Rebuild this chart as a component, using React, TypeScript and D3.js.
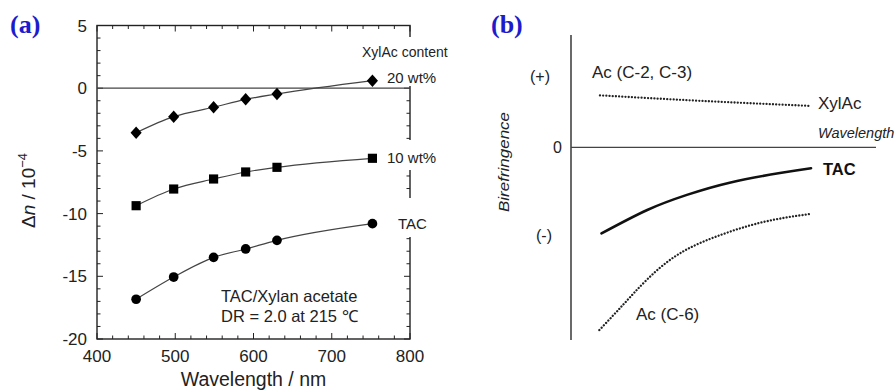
import React from "react";
import * as d3 from "d3";

// ---------- Panel (a) data ----------
const wavelengths = [450, 498, 549, 590, 630, 752];
const wt20 = [-3.55, -2.27, -1.52, -0.89, -0.46, 0.6];
const wt10 = [-9.37, -8.04, -7.24, -6.68, -6.31, -5.59];
const tac = [-16.83, -15.06, -13.49, -12.82, -12.13, -10.8];
const xTicksA = [400, 500, 600, 700, 800];
const yTicksA = [5, 0, -5, -10, -15, -20];

// ---------- Panel (b) schematic data (arbitrary units) ----------
const tacBX = [1.0, 2.5, 3.8, 5.2, 6.85, 7.87];
const tacBY = [-2.68, -1.95, -1.48, -1.1, -0.8, -0.65];
const ac6X = [0.93, 1.71, 2.48, 3.57, 4.99, 6.42, 7.87];
const ac6Y = [-5.69, -4.9, -4.13, -3.3, -2.7, -2.3, -2.07];
const xylX = [0.95, 4.23, 7.87];
const xylY = [1.62, 1.45, 1.29];

const FONT = "'Liberation Sans', Arial, Helvetica, sans-serif";

export default function App() {
  // Panel (a) scales
  const x = d3.scaleLinear().domain([400, 800]).range([97, 410]);
  const y = d3.scaleLinear().domain([-20, 5]).range([339, 25.5]);
  const line = d3
    .line<[number, number]>()
    .x((d) => x(d[0]))
    .y((d) => y(d[1]))
    .curve(d3.curveMonotoneX);
  const series = [
    { vals: wt20, sym: "diamond" },
    { vals: wt10, sym: "square" },
    { vals: tac, sym: "circle" },
  ];
  const diamond = d3.symbol().type(d3.symbolSquare).size(62)();
  const square = d3.symbol().type(d3.symbolSquare).size(84)();
  const circle = d3.symbol().type(d3.symbolCircle).size(74)();

  const minorX = d3.range(400, 801, 20);
  const minorY = d3.range(-20, 5.01, 1);
  const axisColor = "#222";

  // Panel (b) scales
  const xb = d3.scaleLinear().domain([0, 10]).range([571, 876]);
  const yb = d3.scaleLinear().domain([-6, 3.5]).range([340, 35]);
  const lineB = d3
    .line<[number, number]>()
    .x((d) => xb(d[0]))
    .y((d) => yb(d[1]))
    .curve(d3.curveNatural);
  const zip = (a: number[], b: number[]) => a.map((v, i) => [v, b[i]] as [number, number]);

  return (
    <svg
      width={896}
      height={392}
      style={{ position: "absolute", left: 0, top: 0, background: "#fff" }}
      fontFamily={FONT}
    >
      <rect x={0} y={0} width={896} height={392} fill="#fff" />
      {/* ---------- Panel (a) ---------- */}
      <text x={10} y={33} fontFamily="'Liberation Serif', 'Times New Roman', serif" fontWeight="bold" fontSize={26} fill="#1c1ccc">
        (a)
      </text>

      {/* ticks */}
      {minorX.map((v) => {
        const major = v % 100 === 0;
        const len = major ? 6 : 3.5;
        return (
          <g key={"mx" + v} stroke={axisColor} strokeWidth={1}>
            <line x1={x(v)} x2={x(v)} y1={y(-20)} y2={y(-20) - len} />
            <line x1={x(v)} x2={x(v)} y1={y(5)} y2={y(5) + len} />
          </g>
        );
      })}
      {minorY.map((v) => {
        const major = Math.round(v) % 5 === 0;
        const len = major ? 6 : 3.5;
        return (
          <g key={"my" + v} stroke={axisColor} strokeWidth={1}>
            <line x1={x(400)} x2={x(400) + len} y1={y(v)} y2={y(v)} />
            <line x1={x(800)} x2={x(800) - len} y1={y(v)} y2={y(v)} />
          </g>
        );
      })}
      {/* frame */}
      <rect x={x(400)} y={y(5)} width={x(800) - x(400)} height={y(-20) - y(5)} fill="none" stroke={axisColor} strokeWidth={1.4} />

      {/* label backgrounds that interrupt the right axis */}
      <rect x={383} y={37} width={62} height={49} fill="#fff" />
      <rect x={383} y={140} width={62} height={30} fill="#fff" />
      <rect x={383} y={198} width={62} height={39} fill="#fff" />

      {/* zero line */}
      <line x1={x(400)} x2={x(800)} y1={y(0)} y2={y(0)} stroke="#444" strokeWidth={1.3} />

      {/* tick labels */}
      {xTicksA.map((v) => (
        <text key={"xt" + v} x={x(v)} y={362} textAnchor="middle" fontSize={17} fill="#222">
          {v}
        </text>
      ))}
      {yTicksA.map((v) => (
        <text key={"yt" + v} x={87} y={y(v)} dy="0.36em" textAnchor="end" fontSize={17} fill="#222">
          {v}
        </text>
      ))}

      {/* axis titles */}
      <text x={253.5} y={386} textAnchor="middle" fontSize={19.5} fill="#222">
        Wavelength / nm
      </text>
      <text transform="translate(35,228) rotate(-90)" fontSize={19} fill="#222">
        <tspan>Δ</tspan>
        <tspan fontStyle="italic">n</tspan>
        <tspan> / 10</tspan>
        <tspan fontSize={13} dy={-8}>−4</tspan>
      </text>

      {/* series */}
      {series.map((s, i) => {
        const pts = zip(wavelengths, s.vals);
        return (
          <g key={"s" + i}>
            <path d={line(pts) || ""} fill="none" stroke="#444" strokeWidth={1.2} />
            {pts.map((p, j) => {
              const cx = x(p[0]);
              const cy = y(p[1]);
              if (s.sym === "diamond")
                return <path key={j} d={diamond || ""} transform={`translate(${cx},${cy}) scale(1,1.12) rotate(45)`} fill="#000" />;
              if (s.sym === "square") return <path key={j} d={square || ""} transform={`translate(${cx},${cy})`} fill="#000" />;
              return <path key={j} d={circle || ""} transform={`translate(${cx},${cy})`} fill="#000" />;
            })}
          </g>
        );
      })}

      {/* annotations */}
      <text x={362} y={57} fontSize={14} fill="#222">XylAc content</text>
      <text x={387} y={83} fontSize={15} fill="#222">20 wt%</text>
      <text x={387} y={163} fontSize={15} fill="#222">10 wt%</text>
      <text x={398} y={229} fontSize={15} fill="#222">TAC</text>
      <text x={221} y={301.5} fontSize={16.5} fill="#222">TAC/Xylan acetate</text>
      <text x={221} y={321.5} fontSize={16.5} fill="#222">DR = 2.0 at 215 ℃</text>

      {/* ---------- Panel (b) ---------- */}
      <text x={491} y={33} fontFamily="'Liberation Serif', 'Times New Roman', serif" fontWeight="bold" fontSize={26} fill="#1c1ccc">
        (b)
      </text>
      <line x1={xb(0)} x2={xb(0)} y1={yb(3.5)} y2={yb(-6)} stroke="#444" strokeWidth={1.6} />
      <line x1={xb(0)} x2={xb(10)} y1={yb(0)} y2={yb(0)} stroke="#444" strokeWidth={1.4} />

      <text x={557.5} y={yb(0)} dy="0.36em" textAnchor="middle" fontSize={16} fill="#222">0</text>
      <text x={540} y={76.5} dy="0.36em" textAnchor="middle" fontSize={16} fill="#222">(+)</text>
      <text x={544} y={235.5} dy="0.36em" textAnchor="middle" fontSize={16} fill="#222">(-)</text>
      <text
        transform="translate(509,162) rotate(-90)"
        textAnchor="middle"
        fontSize={15.5}
        fontStyle="italic"
        fill="#222"
        textLength={100}
        lengthAdjust="spacingAndGlyphs"
      >
        Birefringence
      </text>
      <text x={818} y={137.5} fontSize={14.5} fontStyle="italic" fill="#222">Wavelength</text>

      <path d={lineB(zip(xylX, xylY)) || ""} fill="none" stroke="#222" strokeWidth={2.3} strokeDasharray="0.01 3.2" strokeLinecap="round" />
      <path d={lineB(zip(tacBX, tacBY)) || ""} fill="none" stroke="#111" strokeWidth={2.6} strokeLinecap="round" />
      <path d={lineB(zip(ac6X, ac6Y)) || ""} fill="none" stroke="#222" strokeWidth={2.3} strokeDasharray="0.01 3.2" strokeLinecap="round" />

      <text x={592} y={77.5} fontSize={17} fill="#222">Ac (C-2, C-3)</text>
      <text x={818} y={108.5} fontSize={17} fill="#222">XylAc</text>
      <text x={823} y={175} fontSize={16.5} fontWeight="bold" fill="#111">TAC</text>
      <text x={636} y={319.5} fontSize={17} fill="#222">Ac (C-6)</text>
    </svg>
  );
}
